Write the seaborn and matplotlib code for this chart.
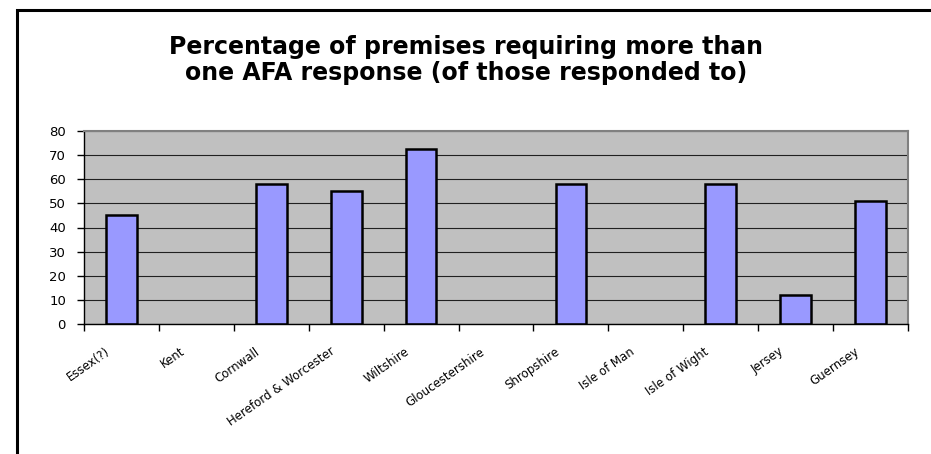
import matplotlib
matplotlib.use("Agg")
import matplotlib.pyplot as plt
import matplotlib.transforms as mtransforms
import seaborn as sns
import pandas as pd
from matplotlib.patches import Rectangle

categories = ["Essex(?)", "Kent", "Cornwall", "Hereford & Worcester", "Wiltshire",
              "Gloucestershire", "Shropshire", "Isle of Man", "Isle of Wight",
              "Jersey", "Guernsey"]
values = [45, 0, 58, 55, 72.5, 0, 58, 0, 58, 12, 51]
yticks = [0, 10, 20, 30, 40, 50, 60, 70, 80]
title = "Percentage of premises requiring more than\none AFA response (of those responded to)"

df = pd.DataFrame({"area": categories, "pct": values})

sns.set_theme(style="white")
plt.rcParams["font.family"] = ["DejaVu Sans"]

W, H = 931, 454
fig = plt.figure(figsize=(W / 100, H / 100), dpi=100)
fig.patch.set_facecolor("white")

# figure border (extends off right/bottom)
fig.add_artist(Rectangle((17 / W, -0.05), 1.2, 1 - 10 / H + 0.05, transform=fig.transFigure,
                         fill=False, edgecolor="black", linewidth=2.2))

left, right, top, bottom = 84, 908, 131, 324
ax = fig.add_axes([left / W, 1 - bottom / H, (right - left) / W, (bottom - top) / H])
ax.set_facecolor("#C0C0C0")

sns.barplot(data=df, x="area", y="pct", ax=ax, color="#9999FF", saturation=1,
            width=0.41, edgecolor="black", linewidth=1.8)
for p in ax.patches:
    if p.get_height() == 0:
        p.set_linewidth(0)

ax.set_ylim(0, 80)
ax.set_yticks(yticks)
ax.set_yticklabels([str(t) for t in yticks], fontsize=9.5, color="black")
ax.yaxis.grid(True, color="#202020", linewidth=0.8)
ax.set_axisbelow(True)
ax.set_xlim(-0.5, len(categories) - 0.5)
ax.set_xlabel("")
ax.set_ylabel("")

for s in ["top", "right"]:
    ax.spines[s].set_color("#808080")
    ax.spines[s].set_linewidth(1.5)
for s in ["left", "bottom"]:
    ax.spines[s].set_color("black")
    ax.spines[s].set_linewidth(1.0)
ax.spines["top"].set_visible(True)
ax.spines["right"].set_visible(True)

ax.tick_params(axis="y", which="both", left=True, length=5, width=1, color="black", pad=8)
ax.set_xticks([i + 0.5 for i in range(-1, len(categories))], minor=True)
ax.tick_params(axis="x", which="minor", bottom=True, length=5, width=1, color="black")
ax.tick_params(axis="x", which="major", bottom=False, length=0, pad=19)
ax.set_xticks(range(len(categories)))
ax.set_xticklabels(categories, rotation=35, ha="right", va="center",
                   rotation_mode="anchor", fontsize=8.5, color="black")
offset = mtransforms.ScaledTranslation(-13 / 100, 0, fig.dpi_scale_trans)
for lbl in ax.get_xticklabels():
    lbl.set_transform(lbl.get_transform() + offset)

fig.text(466 / W, 1 - 60 / H, title, ha="center", va="center", fontsize=17,
         fontweight="bold", linespacing=1.15, color="black")

fig.savefig("out.png", dpi=100)
